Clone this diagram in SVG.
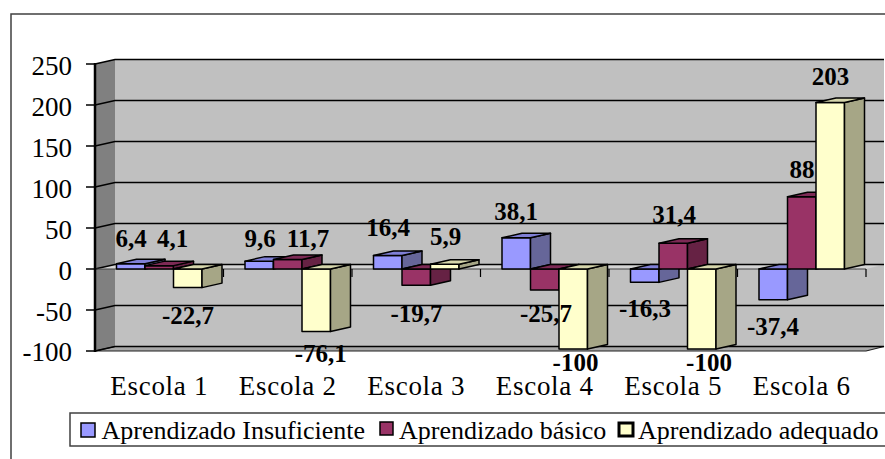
<svg xmlns="http://www.w3.org/2000/svg" width="885" height="459" viewBox="0 0 885 459">
<style>
text{font-family:"Liberation Serif","Times New Roman",serif;fill:#000}
.ax{font-size:27px;text-anchor:end}
.cat{font-size:27px;text-anchor:middle;letter-spacing:0.7px}
.lbl{font-size:25px;font-weight:bold;text-anchor:middle}
.leg{font-size:26px}
.grid{fill:none;stroke:#000;stroke-width:1.6}
.bar *{stroke:#000;stroke-width:1.5;stroke-linejoin:round}
.b .f{fill:#9999ff}.b .s{fill:#666699}.b .t{fill:#7f7fd6}
.r .f{fill:#993366}.r .s{fill:#662244}.r .t{fill:#7d2a55}
.y .f{fill:#ffffcc}.y .s{fill:#a6a686}.y .t{fill:#d6d6ac}
</style>
<rect x="11" y="14" width="900" height="470" fill="#fff" stroke="#404040" stroke-width="1.5"/>
<g id="plot">
<polygon points="95,64 115,59.5 115,346.5 95,351" fill="#808080"/>
<rect x="115" y="59.5" width="769" height="287" fill="#c0c0c0"/>
<polygon points="95,351 115,346.5 884,346.5 866,351" fill="#a8a8a8" stroke="#202020" stroke-width="1.2"/>
<polygon points="95,269 115,264.5 884,264.5 866,269" fill="#d4d4d4"/>
<path class="grid" d="M95,64 L115,59.5 L884,59.5 M95,105 L115,100.5 L884,100.5 M95,146 L115,141.5 L884,141.5 M95,187 L115,182.5 L884,182.5 M95,228 L115,223.5 L884,223.5 M95,269 L115,264.5 L884,264.5 M95,310 L115,305.5 L884,305.5 M95,351 L115,346.5 L884,346.5"/>
<path d="M95,269 L866,269" stroke="#404040" stroke-width="1"/>
<path d="M95,63 L95,352" stroke="#000" stroke-width="2.5"/>
<path d="M86,64H95M86,105H95M86,146H95M86,187H95M86,228H95M86,269H95M86,310H95M86,351H95" stroke="#000" stroke-width="1.5"/>
<path d="M223.5,269V277M352,269V277M480.5,269V277M609,269V277M737.5,269V277M866,269V277" stroke="#000" stroke-width="1.2"/>
</g>
<g id="axis-labels">
<text class="ax" x="72" y="75">250</text>
<text class="ax" x="72" y="116">200</text>
<text class="ax" x="72" y="157">150</text>
<text class="ax" x="72" y="198">100</text>
<text class="ax" x="72" y="239">50</text>
<text class="ax" x="72" y="280">0</text>
<text class="ax" x="72" y="321">-50</text>
<text class="ax" x="72" y="361">-100</text>
<text class="cat" x="159.25" y="395">Escola 1</text>
<text class="cat" x="287.75" y="395">Escola 2</text>
<text class="cat" x="416.25" y="395">Escola 3</text>
<text class="cat" x="544.75" y="395">Escola 4</text>
<text class="cat" x="673.25" y="395">Escola 5</text>
<text class="cat" x="801.75" y="395">Escola 6</text>
</g>
<g id="bars">
<g id="e1-insuf" class="bar b"><rect class="f" x="116.5" y="263.75" width="28.5" height="5.25"/><polygon class="s" points="145,263.75 165,259.25 165,264.5 145,269"/><polygon class="t" points="116.5,263.75 136.5,259.25 165,259.25 145,263.75"/></g>
<g id="e1-basico" class="bar r"><rect class="f" x="145" y="265.64" width="28.5" height="3.36"/><polygon class="s" points="173.5,265.64 193.5,261.14 193.5,264.5 173.5,269"/><polygon class="t" points="145,265.64 165,261.14 193.5,261.14 173.5,265.64"/></g>
<g id="e1-adeq" class="bar y"><rect class="f" x="173.5" y="269" width="28.5" height="18.61"/><polygon class="s" points="202,269 222,264.5 222,283.11 202,287.61"/><polygon class="t" points="173.5,269 193.5,264.5 222,264.5 202,269"/></g>

<g id="e2-insuf" class="bar b"><rect class="f" x="245" y="261.13" width="28.5" height="7.87"/><polygon class="s" points="273.5,261.13 293.5,256.63 293.5,264.5 273.5,269"/><polygon class="t" points="245,261.13 265,256.63 293.5,256.63 273.5,261.13"/></g>
<g id="e2-basico" class="bar r"><rect class="f" x="273.5" y="259.41" width="28.5" height="9.59"/><polygon class="s" points="302,259.41 322,254.91 322,264.5 302,269"/><polygon class="t" points="273.5,259.41 293.5,254.91 322,254.91 302,259.41"/></g>
<g id="e2-adeq" class="bar y"><rect class="f" x="302" y="269" width="28.5" height="62.4"/><polygon class="s" points="330.5,269 350.5,264.5 350.5,326.9 330.5,331.4"/><polygon class="t" points="302,269 322,264.5 350.5,264.5 330.5,269"/></g>

<g id="e3-insuf" class="bar b"><rect class="f" x="373.5" y="255.55" width="28.5" height="13.45"/><polygon class="s" points="402,255.55 422,251.05 422,264.5 402,269"/><polygon class="t" points="373.5,255.55 393.5,251.05 422,251.05 402,255.55"/></g>
<g id="e3-basico" class="bar r"><rect class="f" x="402" y="269" width="28.5" height="16.15"/><polygon class="s" points="430.5,269 450.5,264.5 450.5,280.65 430.5,285.15"/><polygon class="t" points="402,269 422,264.5 450.5,264.5 430.5,269"/></g>
<g id="e3-adeq" class="bar y"><rect class="f" x="430.5" y="264.16" width="28.5" height="4.84"/><polygon class="s" points="459,264.16 479,259.66 479,264.5 459,269"/><polygon class="t" points="430.5,264.16 450.5,259.66 479,259.66 459,264.16"/></g>

<g id="e4-insuf" class="bar b"><rect class="f" x="502" y="237.76" width="28.5" height="31.24"/><polygon class="s" points="530.5,237.76 550.5,233.26 550.5,264.5 530.5,269"/><polygon class="t" points="502,237.76 522,233.26 550.5,233.26 530.5,237.76"/></g>
<g id="e4-basico" class="bar r"><rect class="f" x="530.5" y="269" width="28.5" height="21.07"/><polygon class="s" points="559,269 579,264.5 579,285.57 559,290.07"/><polygon class="t" points="530.5,269 550.5,264.5 579,264.5 559,269"/></g>
<g id="e4-adeq" class="bar y"><rect class="f" x="559" y="269" width="28.5" height="80"/><polygon class="s" points="587.5,269 607.5,264.5 607.5,344.5 587.5,349"/><polygon class="t" points="559,269 579,264.5 607.5,264.5 587.5,269"/></g>

<g id="e5-insuf" class="bar b"><rect class="f" x="630.5" y="269" width="28.5" height="13.37"/><polygon class="s" points="659,269 679,264.5 679,277.87 659,282.37"/><polygon class="t" points="630.5,269 650.5,264.5 679,264.5 659,269"/></g>
<g id="e5-basico" class="bar r"><rect class="f" x="659" y="243.25" width="28.5" height="25.75"/><polygon class="s" points="687.5,243.25 707.5,238.75 707.5,264.5 687.5,269"/><polygon class="t" points="659,243.25 679,238.75 707.5,238.75 687.5,243.25"/></g>
<g id="e5-adeq" class="bar y"><rect class="f" x="687.5" y="269" width="28.5" height="80"/><polygon class="s" points="716,269 736,264.5 736,344.5 716,349"/><polygon class="t" points="687.5,269 707.5,264.5 736,264.5 716,269"/></g>

<g id="e6-insuf" class="bar b"><rect class="f" x="759" y="269" width="28.5" height="30.67"/><polygon class="s" points="787.5,269 807.5,264.5 807.5,295.17 787.5,299.67"/><polygon class="t" points="759,269 779,264.5 807.5,264.5 787.5,269"/></g>
<g id="e6-basico" class="bar r"><rect class="f" x="787.5" y="196.84" width="28.5" height="72.16"/><polygon class="s" points="816,196.84 836,192.34 836,264.5 816,269"/><polygon class="t" points="787.5,196.84 807.5,192.34 836,192.34 816,196.84"/></g>
<g id="e6-adeq" class="bar y"><rect class="f" x="816" y="102.54" width="28.5" height="166.46"/><polygon class="s" points="844.5,102.54 864.5,98.04 864.5,264.5 844.5,269"/><polygon class="t" points="816,102.54 836,98.04 864.5,98.04 844.5,102.54"/></g>
</g>
<g id="data-labels">
<text class="lbl" x="131" y="247">6,4</text>
<text class="lbl" x="172.5" y="247">4,1</text>
<text class="lbl" x="188" y="324">-22,7</text>
<text class="lbl" x="260" y="247">9,6</text>
<text class="lbl" x="308" y="247">11,7</text>
<text class="lbl" x="320.7" y="361.7">-76,1</text>
<text class="lbl" x="388" y="236">16,4</text>
<text class="lbl" x="445.5" y="245">5,9</text>
<text class="lbl" x="416.5" y="322">-19,7</text>
<text class="lbl" x="516" y="220">38,1</text>
<text class="lbl" x="546" y="322">-25,7</text>
<text class="lbl" x="575.5" y="371">-100</text>
<text class="lbl" x="645" y="317">-16,3</text>
<text class="lbl" x="674" y="223">31,4</text>
<text class="lbl" x="709" y="371">-100</text>
<text class="lbl" x="773" y="335">-37,4</text>
<text class="lbl" x="802" y="178">88</text>
<text class="lbl" x="830.5" y="85">203</text>
</g>
<g id="legend">
<rect x="70" y="413" width="840" height="33" fill="#fff" stroke="#404040" stroke-width="1.5"/>
<rect x="81" y="423" width="14" height="14" fill="#9999ff" stroke="#000" stroke-width="1.5"/>
<text class="leg" x="101.5" y="439">Aprendizado Insuficiente</text>
<rect x="380" y="422" width="13" height="13" fill="#993366" stroke="#000" stroke-width="1.5"/>
<text class="leg" x="399" y="439">Aprendizado básico</text>
<rect x="619" y="423" width="14" height="13" fill="#ffffcc" stroke="#000" stroke-width="3"/>
<text class="leg" x="638" y="439">Aprendizado adequado</text>
</g>
</svg>
